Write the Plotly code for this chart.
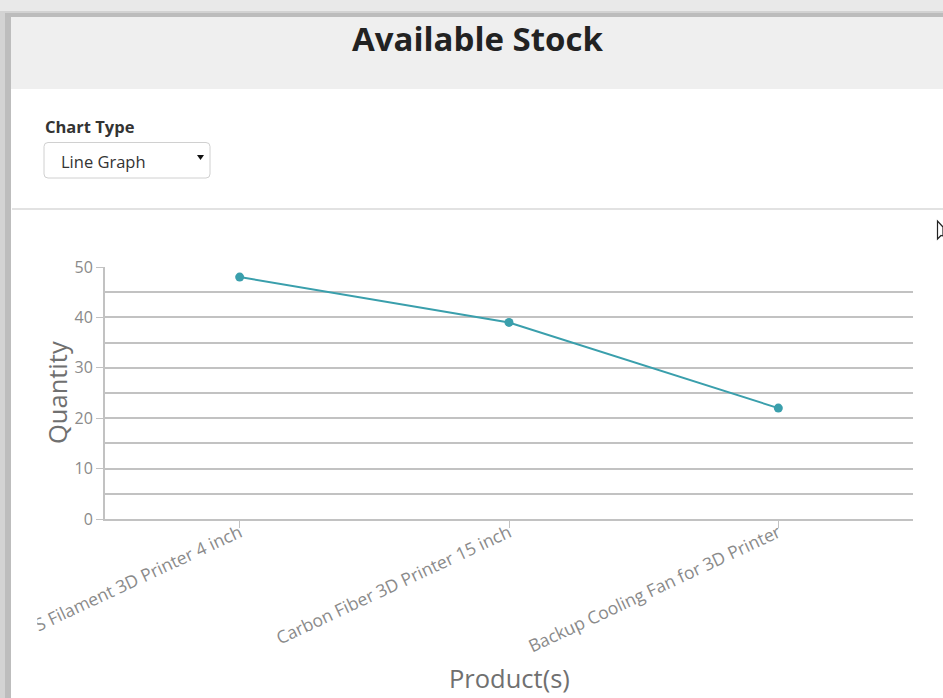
import plotly.graph_objects as go

# Stock data
products = [
    "ABS Filament 3D Printer 4 inch",
    "Carbon Fiber 3D Printer 15 inch",
    "Backup Cooling Fan for 3D Printer",
]
quantities = [48, 39, 22]
y_major_ticks = [0, 10, 20, 30, 40, 50]
y_minor_ticks = [5, 15, 25, 35, 45]

W, H = 943, 698
FONT = "Open Sans"
LINE_COLOR = "#3a9fac"
AXIS_COLOR = "#c2c2c2"


def px(x):
    return x / W


def py(y):
    return 1 - y / H


def rect(x0, y0, x1, y1, fill, layer="above", line_color=None, line_width=0):
    return dict(
        type="rect", xref="paper", yref="paper",
        x0=px(x0), x1=px(x1), y0=py(y1), y1=py(y0),
        fillcolor=fill, layer=layer,
        line=dict(width=line_width, color=line_color or fill),
    )


def rounded_box(x0, y0, x1, y1, r):
    pts = [
        f"M {px(x0 + r)},{py(y0)}",
        f"L {px(x1 - r)},{py(y0)}",
        f"Q {px(x1)},{py(y0)} {px(x1)},{py(y0 + r)}",
        f"L {px(x1)},{py(y1 - r)}",
        f"Q {px(x1)},{py(y1)} {px(x1 - r)},{py(y1)}",
        f"L {px(x0 + r)},{py(y1)}",
        f"Q {px(x0)},{py(y1)} {px(x0)},{py(y1 - r)}",
        f"L {px(x0)},{py(y0 + r)}",
        f"Q {px(x0)},{py(y0)} {px(x0 + r)},{py(y0)} Z",
    ]
    return " ".join(pts)


def poly(points):
    s = "M " + " L ".join(f"{px(a)},{py(b)}" for a, b in points) + " Z"
    return s


fig = go.Figure(
    go.Scatter(
        x=products,
        y=quantities,
        mode="lines+markers",
        line=dict(color=LINE_COLOR, width=2),
        marker=dict(color=LINE_COLOR, size=9),
        hoverinfo="x+y",
    )
)

shapes = [
    # header band and window frame
    rect(0, 0, W, 89, "#efefef", layer="below"),
    rect(0, 0, W, 11, "#e9e9e9"),
    rect(0, 11, W, 13, "#d2d2d2"),
    rect(0, 13, W, 17, "#bcbcbc"),
    # separator under the controls
    dict(type="line", xref="paper", yref="paper",
         x0=px(12), x1=px(W), y0=py(209), y1=py(209),
         line=dict(color="#e2e2e2", width=2), layer="above"),
    # dropdown box
    dict(type="path", xref="paper", yref="paper",
         path=rounded_box(44, 142.5, 210, 178, 4),
         fillcolor="white", line=dict(color="#d0d0d0", width=1), layer="above"),
    dict(type="path", xref="paper", yref="paper",
         path=poly([(197, 155), (204, 155), (200.5, 160)]),
         fillcolor="#111111", line=dict(width=0), layer="above"),
    # mouse pointer at the right edge
    dict(type="path", xref="paper", yref="paper",
         path=poly([(937.5, 221), (937.5, 239), (941, 235.5), (943, 236), (943, 227)]),
         fillcolor="white", line=dict(color="#222222", width=1.2), layer="above"),
    # left clip of the chart container
    rect(11, 526, 37.2, H, "white"),
    # left window frame
    rect(0, 11, 5, H, "#d3d3d3"),
    rect(5, 17, 11, H, "#bdbdbd"),
]

annotations = [
    dict(text="Available Stock", x=px(477), y=py(38.5), xref="paper", yref="paper",
         xanchor="center", yanchor="middle", showarrow=False,
         font=dict(family=FONT, size=33, color="#222222", weight=700)),
    dict(text="Chart Type", x=px(43), y=py(127), xref="paper", yref="paper",
         xanchor="left", yanchor="middle", showarrow=False,
         font=dict(family=FONT, size=16.5, color="#333333", weight=700)),
    dict(text="Line Graph", x=px(59), y=py(161), xref="paper", yref="paper",
         xanchor="left", yanchor="middle", showarrow=False,
         font=dict(family=FONT, size=16.5, color="#333333")),
    dict(text="Quantity", x=px(57), y=py(393), xref="paper", yref="paper",
         xanchor="center", yanchor="middle", textangle=-90, showarrow=False,
         font=dict(family=FONT, size=25.5, color="#707070")),
    dict(text="Product(s)", x=px(509), y=py(678), xref="paper", yref="paper",
         xanchor="center", yanchor="middle", showarrow=False,
         font=dict(family=FONT, size=25.5, color="#707070")),
]

fig.update_layout(
    width=W,
    height=H,
    autosize=False,
    margin=dict(l=0, r=0, t=0, b=0),
    paper_bgcolor="white",
    plot_bgcolor="white",
    showlegend=False,
    font=dict(family=FONT),
    shapes=shapes,
    annotations=annotations,
    xaxis=dict(
        domain=[px(105), px(913)],
        type="category",
        range=[-0.5, 2.5],
        showgrid=False,
        zeroline=False,
        showline=True,
        linecolor=AXIS_COLOR,
        linewidth=2,
        ticks="outside",
        ticklen=7,
        tickwidth=1,
        tickcolor=AXIS_COLOR,
        tickangle=-25,
        ticklabelstandoff=-12,
        tickfont=dict(family=FONT, size=17.5, color="#8a8a8a"),
        automargin=False,
        fixedrange=True,
    ),
    yaxis=dict(
        domain=[py(519), py(267)],
        range=[0, 50],
        tickvals=y_major_ticks,
        showgrid=True,
        gridcolor=AXIS_COLOR,
        gridwidth=2,
        minor=dict(tickvals=y_minor_ticks, showgrid=True,
                   gridcolor=AXIS_COLOR, gridwidth=2, ticks=""),
        zeroline=False,
        showline=True,
        linecolor=AXIS_COLOR,
        linewidth=2,
        ticks="outside",
        ticklen=7,
        tickwidth=1,
        tickcolor=AXIS_COLOR,
        tickfont=dict(family=FONT, size=16, color="#8a8a8a"),
        automargin=False,
        fixedrange=True,
    ),
)

fig.write_html("out.html")
